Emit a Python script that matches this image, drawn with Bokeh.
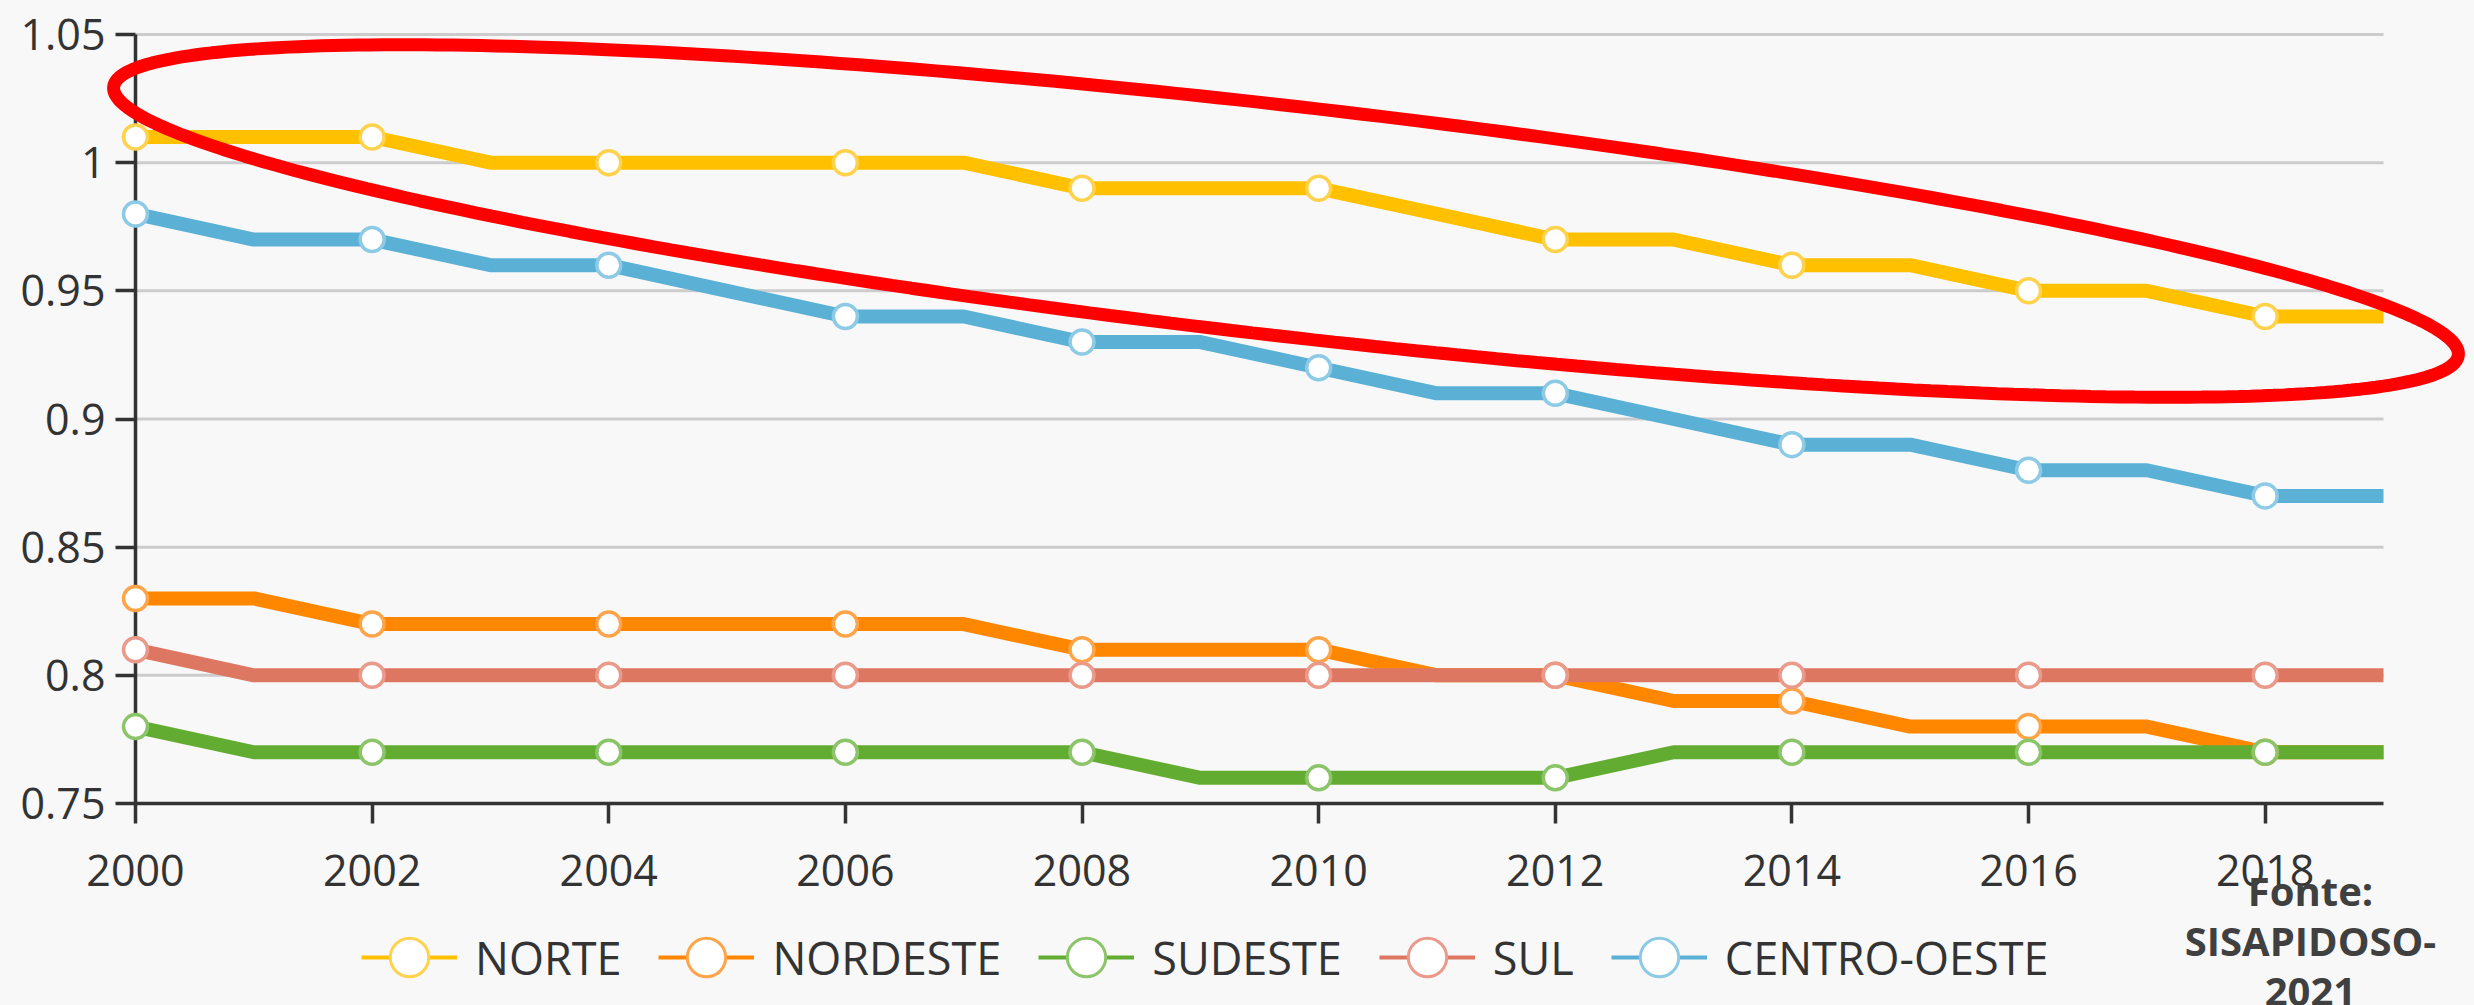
import numpy as np
from bokeh.plotting import figure
from bokeh.models import (Range1d, FixedTicker, NumeralTickFormatter, Legend, LegendItem,
                          ColumnDataSource, Label, PolyAnnotation)
from bokeh.embed import file_html
from bokeh.resources import INLINE

# ---------------- data ----------------
years = [2000, 2001, 2002, 2003, 2004, 2005, 2006, 2007, 2008, 2009,
         2010, 2011, 2012, 2013, 2014, 2015, 2016, 2017, 2018, 2019]
norte = [1.01, 1.01, 1.01, 1.00, 1.00, 1.00, 1.00, 1.00, 0.99, 0.99,
         0.99, 0.98, 0.97, 0.97, 0.96, 0.96, 0.95, 0.95, 0.94, 0.94]
nordeste = [0.83, 0.83, 0.82, 0.82, 0.82, 0.82, 0.82, 0.82, 0.81, 0.81,
            0.81, 0.80, 0.80, 0.79, 0.79, 0.78, 0.78, 0.78, 0.77, 0.77]
sudeste = [0.78, 0.77, 0.77, 0.77, 0.77, 0.77, 0.77, 0.77, 0.77, 0.76,
           0.76, 0.76, 0.76, 0.77, 0.77, 0.77, 0.77, 0.77, 0.77, 0.77]
sul = [0.81, 0.80, 0.80, 0.80, 0.80, 0.80, 0.80, 0.80, 0.80, 0.80,
       0.80, 0.80, 0.80, 0.80, 0.80, 0.80, 0.80, 0.80, 0.80, 0.80]
centro_oeste = [0.98, 0.97, 0.97, 0.96, 0.96, 0.95, 0.94, 0.94, 0.93, 0.93,
                0.92, 0.91, 0.91, 0.90, 0.89, 0.89, 0.88, 0.88, 0.87, 0.87]

series_names = ["NORTE", "NORDESTE", "SUDESTE", "SUL", "CENTRO-OESTE"]
series_values = [norte, nordeste, sudeste, sul, centro_oeste]
line_colors = ["#FFC000", "#FF8700", "#63AC32", "#DE7762", "#5AB0D5"]
marker_colors = ["#FFD24D", "#FFA448", "#8CC46A", "#E99A8A", "#8DCAE5"]

x_ticks = [2000, 2002, 2004, 2006, 2008, 2010, 2012, 2014, 2016, 2018]
y_ticks = [0.75, 0.80, 0.85, 0.90, 0.95, 1.00, 1.05]
source_text = "Fonte:\nSISAPIDOSO-\n2021"

X0, X1 = 2000, 2019
Y0, Y1 = 0.75, 1.05

# ---------------- layout (pixels on the canvas) ----------------
BG = "#f8f8f8"
W, H = 2474, 1005
PL, PR, PT, PB = 135, 2383, 34, 803          # plot-area edges on canvas
sx = (PR - PL) / (X1 - X0)                     # px per year
sy = (PB - PT) / (Y1 - Y0)                     # px per unit
x_range = Range1d(X0 - PL / sx, X0 + (W - PL) / sx)
y_range = Range1d(Y1 - (H - PT) / sy, Y1 + PT / sy)

p = figure(width=W, height=H, x_range=x_range, y_range=y_range,
           output_backend="svg", toolbar_location=None, min_border=0,
           background_fill_color=BG, border_fill_color=BG, outline_line_color=None)

tick_font = "Open Sans"
for ax in (p.xaxis, p.yaxis):
    ax.axis_line_color = "#333333"
    ax.axis_line_width = 3.5
    ax.major_tick_line_color = "#333333"
    ax.major_tick_line_width = 3.5
    ax.major_tick_out = 20
    ax.major_tick_in = 0
    ax.minor_tick_out = 0
    ax.minor_tick_in = 0
    ax.major_label_text_font = tick_font
    ax.major_label_text_font_size = "43px"
    ax.major_label_text_color = "#333333"
    ax.level = "underlay"

p.xaxis.fixed_location = Y0
p.xaxis.bounds = (X0, X1)
p.xaxis.ticker = FixedTicker(ticks=x_ticks)
p.xaxis.formatter = NumeralTickFormatter(format="0")
p.xaxis.major_label_standoff = 31
p.yaxis.fixed_location = X0
p.yaxis.bounds = (Y0, Y1)
p.yaxis.ticker = FixedTicker(ticks=y_ticks)
p.yaxis.formatter = NumeralTickFormatter(format="0.[00]")
p.yaxis.major_label_standoff = 10

p.xgrid.visible = False
p.ygrid.visible = False
# horizontal grid lines limited to the plot area
p.segment(x0=X0, x1=X1, y0=y_ticks[1:], y1=y_ticks[1:], line_color="#cccccc",
          line_width=3, level="underlay")

data = {"year": years}
for n, v in zip(series_names, series_values):
    data[n] = v
src = ColumnDataSource(data)
even = [i for i, y in enumerate(years) if y % 2 == 0]
msrc = ColumnDataSource({k: [v[i] for i in even] for k, v in data.items()})

for n, c in zip(series_names, line_colors):
    p.line(x="year", y=n, source=src, line_width=14, line_color=c, line_join="round")
for n, mc in zip(series_names, marker_colors):
    p.scatter(x="year", y=n, source=msrc, size=24, marker="circle",
              fill_color="white", line_color=mc, line_width=3.5)

# legend-only renderers (a single NaN point, so nothing is drawn in the plot)
items = []
for n, c, mc in zip(series_names, line_colors, marker_colors):
    lsrc = ColumnDataSource({"x": [np.nan], "y": [np.nan]})
    lr = p.line(x="x", y="y", source=lsrc, line_width=4, line_color=c)
    sr = p.scatter(x="x", y="y", source=lsrc, marker="circle", fill_color="white",
                   line_color=mc, line_width=3)
    items.append(LegendItem(label=n, renderers=[lr, sr]))

legend = Legend(items=items, orientation="horizontal", location=(361, -4),
                glyph_width=96, glyph_height=104, label_standoff=18, spacing=37,
                padding=0, margin=0, border_line_color=None, background_fill_alpha=0,
                label_text_font=tick_font, label_text_font_size="45px",
                label_text_color="#333333")
p.add_layout(legend)

# ---------------- red highlight ellipse (annotation) ----------------
cx = X0 + (1285.5 - PL) / sx
cy = Y1 - (220.5 - PT) / sy
a, b, th = 1180.0, 115.0, np.deg2rad(6.53)
t = np.linspace(0, 2 * np.pi, 361)
dx = a * np.cos(t) * np.cos(th) - b * np.sin(t) * np.sin(th)
dy = a * np.cos(t) * np.sin(th) + b * np.sin(t) * np.cos(th)
ell = PolyAnnotation(xs=list(cx + dx / sx), ys=list(cy - dy / sy),
                     fill_alpha=0, line_color="#ff0000", line_alpha=1.0,
                     line_width=13, level="overlay")
p.add_layout(ell)

# ---------------- source note ----------------
note = Label(x=X0 + (2310 - PL) / sx, y=Y1 - (862 - PT) / sy, text=source_text,
             text_align="center", text_baseline="top", text_font=tick_font,
             text_font_style="bold", text_font_size="40px", text_color="#404040",
             text_line_height=0.91)
p.add_layout(note)

html = file_html(p, INLINE)
html = html.replace("</head>", "<style>body{background:#f8f8f8;}</style></head>", 1)
open("out.html", "w").write(html)
